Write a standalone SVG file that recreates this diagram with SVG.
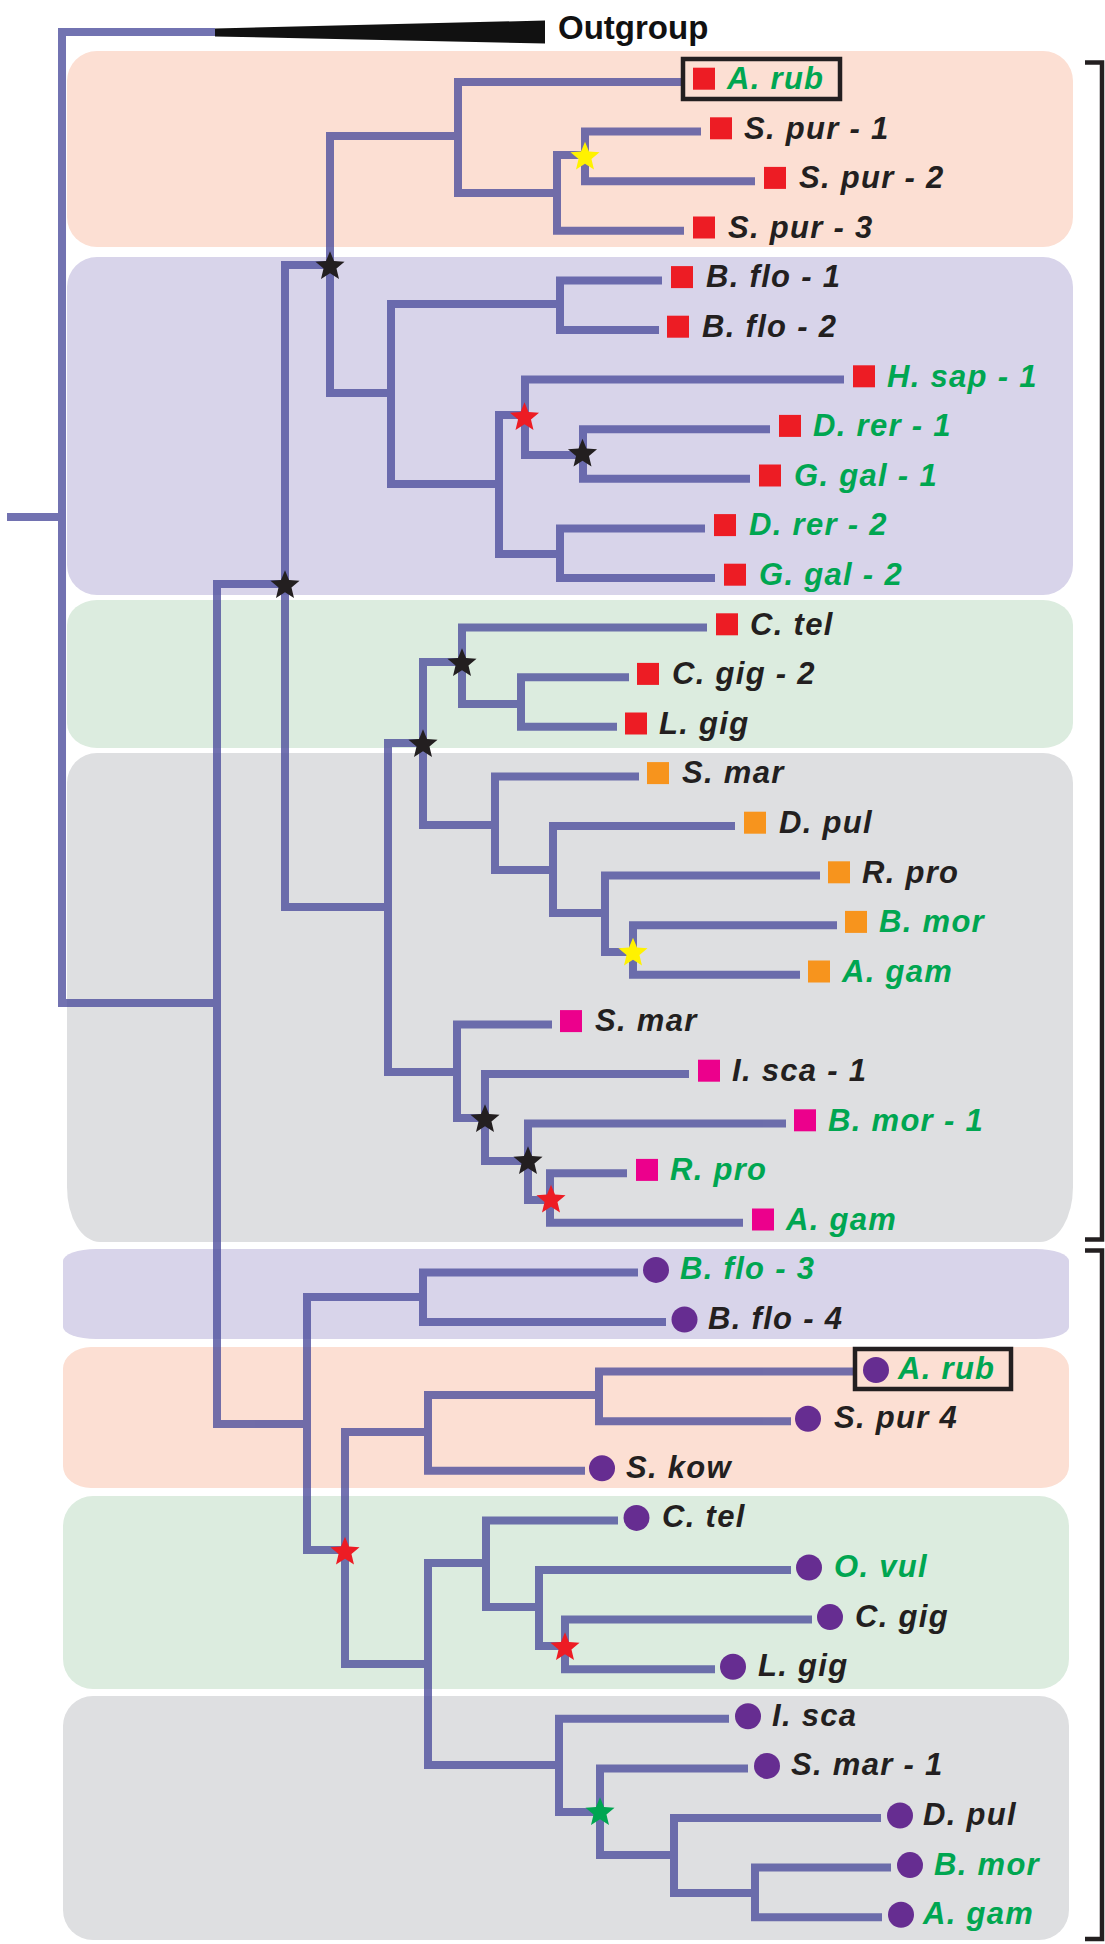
<svg xmlns="http://www.w3.org/2000/svg" xmlns:xlink="http://www.w3.org/1999/xlink" width="1105" height="1944" viewBox="0 0 1105 1944">
<style>
.lbl{font-family:"Liberation Sans",Arial,Helvetica,sans-serif;font-weight:bold;font-style:italic;font-size:31px;letter-spacing:1.3px}
.g{fill:#00A651}
.k{fill:#231F20}
.tree path{fill:none;stroke:#4F509E;stroke-width:8;stroke-linejoin:miter;stroke-linecap:butt}
.br{fill:none;stroke:#231F20;stroke-width:4.5;stroke-linejoin:miter}
.hl{fill:none;stroke:#231F20;stroke-width:4.5}
.sr{fill:#ED1C24}.so{fill:#F7941D}.sp{fill:#EC008C}.cp{fill:#662D91}
.stk{fill:#231F20}.str{fill:#ED1C24}.sty{fill:#FFF200}.stg{fill:#00A651}
.peach{fill:#FCDFD3}.lav{fill:#D8D4EA}.grn{fill:#DCECDF}.gry{fill:#DEDFE1}
</style>
<defs>
<path id="star" d="M0,-15.3 L4,-5.5 L14.55,-4.73 L6.47,2.1 L8.99,12.38 L0,6.8 L-8.99,12.38 L-6.47,2.1 L-14.55,-4.73 L-4,-5.5 Z"/>
</defs>

<g id="backgrounds">
<rect class="peach" x="67" y="51" width="1006" height="196" rx="30" ry="30"/>
<rect class="lav" x="67" y="257" width="1006" height="338" rx="30" ry="30"/>
<rect class="grn" x="67" y="600" width="1006" height="148" rx="30" ry="25"/>
<path class="gry" d="M97,753 H1043 A30,30 0 0 1 1073,783 V1187 A33,55 0 0 1 1040,1242 H100 A33,55 0 0 1 67,1187 V783 A30,30 0 0 1 97,753 Z"/>
<rect class="lav" x="63" y="1249" width="1006" height="90" rx="33" ry="12"/>
<rect class="peach" x="63" y="1347" width="1006" height="141" rx="28" ry="22"/>
<rect class="grn" x="63" y="1496" width="1006" height="193" rx="30" ry="30"/>
<rect class="gry" x="63" y="1696" width="1006" height="244" rx="30" ry="30"/>
</g>

<g id="connectors" class="tree" opacity="0.8">
<path d="M7,517 H62"/>
<path d="M215,32 H62 V1003 H217"/>
<path d="M285,584 H217 V1424 H307"/>
<path d="M330,265 H285 V907 H388"/>
<path d="M458,136 H330 V393 H391"/>
<path d="M682,82 H458 V193 H557"/>
<path d="M585,155 H557 V230.8 H684"/>
<path d="M701,131.6 H585 V181.2 H755"/>
<path d="M560,304 H391 V484 H499"/>
<path d="M662,280.4 H560 V330 H659"/>
<path d="M525,415 H499 V554 H560"/>
<path d="M844,379.6 H525 V455 H583"/>
<path d="M770,429.2 H583 V478.8 H750"/>
<path d="M705,528.4 H560 V578 H715"/>
<path d="M423,743 H388 V1072 H457"/>
<path d="M462,662 H423 V825 H495"/>
<path d="M707,627.6 H462 V704 H521"/>
<path d="M629,677.2 H521 V726.8 H617"/>
<path d="M639,776.4 H495 V870 H553"/>
<path d="M735,826 H553 V913 H605"/>
<path d="M820,875.6 H605 V952 H633"/>
<path d="M837,925.2 H633 V974.8 H800"/>
<path d="M552,1024.4 H457 V1118 H485"/>
<path d="M689,1074 H485 V1161 H528"/>
<path d="M786,1123.6 H528 V1200 H550"/>
<path d="M627,1173.2 H550 V1222.8 H743"/>
<path d="M423,1297 H307 V1550 H345"/>
<path d="M638,1272.4 H423 V1322 H666"/>
<path d="M428,1432 H345 V1664 H428"/>
<path d="M599,1395 H428 V1470.8 H585"/>
<path d="M853,1371.6 H599 V1421.2 H791"/>
<path d="M486,1563 H428 V1765 H559"/>
<path d="M618,1520.4 H486 V1607 H539"/>
<path d="M791,1570 H539 V1646 H565"/>
<path d="M812,1619.6 H565 V1669.2 H715"/>
<path d="M729,1718.8 H559 V1812 H600"/>
<path d="M748,1768.4 H600 V1855 H674"/>
<path d="M881,1818 H674 V1893 H755"/>
<path d="M891,1867.6 H755 V1917.2 H882"/>
</g>

<g id="outgroup">
<polygon points="215,28.5 545,20.5 545,43.5 215,36.5" fill="#111111"/>
<text x="558" y="39" font-family="Liberation Sans, Arial, sans-serif" font-weight="bold" font-size="33" fill="#111111">Outgroup</text>
</g>

<g id="stars">
<use xlink:href="#star" href="#star" class="sty" x="585" y="157"/>
<use xlink:href="#star" href="#star" class="stk" x="330" y="266.5"/>
<use xlink:href="#star" href="#star" class="str" x="524.5" y="417.5"/>
<use xlink:href="#star" href="#star" class="stk" x="582.5" y="454"/>
<use xlink:href="#star" href="#star" class="stk" x="285" y="585.5"/>
<use xlink:href="#star" href="#star" class="stk" x="462" y="663.5"/>
<use xlink:href="#star" href="#star" class="stk" x="423" y="744.5"/>
<use xlink:href="#star" href="#star" class="sty" x="633" y="953"/>
<use xlink:href="#star" href="#star" class="stk" x="485" y="1119.5"/>
<use xlink:href="#star" href="#star" class="stk" x="528" y="1161.5"/>
<use xlink:href="#star" href="#star" class="str" x="551" y="1200"/>
<use xlink:href="#star" href="#star" class="str" x="345" y="1552"/>
<use xlink:href="#star" href="#star" class="str" x="565" y="1647.5"/>
<use xlink:href="#star" href="#star" class="stg" x="600" y="1812.5"/>
</g>

<g id="leaf-0"><rect class="hl" x="683" y="59" width="157" height="40"/><rect class="sr" x="693" y="67.7" width="22" height="22"/><text class="lbl g" x="727" y="89">A. rub</text></g>
<g id="leaf-1"><rect class="sr" x="710" y="117.3" width="22" height="22"/><text class="lbl k" x="744" y="138.6">S. pur - 1</text></g>
<g id="leaf-2"><rect class="sr" x="764" y="166.9" width="22" height="22"/><text class="lbl k" x="799" y="188.2">S. pur - 2</text></g>
<g id="leaf-3"><rect class="sr" x="693" y="216.5" width="22" height="22"/><text class="lbl k" x="728" y="237.8">S. pur - 3</text></g>
<g id="leaf-4"><rect class="sr" x="671" y="266.1" width="22" height="22"/><text class="lbl k" x="706" y="287.4">B. flo - 1</text></g>
<g id="leaf-5"><rect class="sr" x="667" y="315.7" width="22" height="22"/><text class="lbl k" x="702" y="337">B. flo - 2</text></g>
<g id="leaf-6"><rect class="sr" x="853" y="365.3" width="22" height="22"/><text class="lbl g" x="887" y="386.6">H. sap - 1</text></g>
<g id="leaf-7"><rect class="sr" x="779" y="414.9" width="22" height="22"/><text class="lbl g" x="813" y="436.2">D. rer - 1</text></g>
<g id="leaf-8"><rect class="sr" x="759" y="464.5" width="22" height="22"/><text class="lbl g" x="794" y="485.8">G. gal - 1</text></g>
<g id="leaf-9"><rect class="sr" x="714" y="514.1" width="22" height="22"/><text class="lbl g" x="749" y="535.4">D. rer - 2</text></g>
<g id="leaf-10"><rect class="sr" x="724" y="563.7" width="22" height="22"/><text class="lbl g" x="759" y="585">G. gal - 2</text></g>
<g id="leaf-11"><rect class="sr" x="716" y="613.3" width="22" height="22"/><text class="lbl k" x="750" y="634.6">C. tel</text></g>
<g id="leaf-12"><rect class="sr" x="637" y="662.9" width="22" height="22"/><text class="lbl k" x="672" y="684.2">C. gig - 2</text></g>
<g id="leaf-13"><rect class="sr" x="625" y="712.5" width="22" height="22"/><text class="lbl k" x="659" y="733.8">L. gig</text></g>
<g id="leaf-14"><rect class="so" x="647" y="762.1" width="22" height="22"/><text class="lbl k" x="682" y="783.4">S. mar</text></g>
<g id="leaf-15"><rect class="so" x="744" y="811.7" width="22" height="22"/><text class="lbl k" x="779" y="833">D. pul</text></g>
<g id="leaf-16"><rect class="so" x="828" y="861.3" width="22" height="22"/><text class="lbl k" x="862" y="882.6">R. pro</text></g>
<g id="leaf-17"><rect class="so" x="845" y="910.9" width="22" height="22"/><text class="lbl g" x="879" y="932.2">B. mor</text></g>
<g id="leaf-18"><rect class="so" x="808" y="960.5" width="22" height="22"/><text class="lbl g" x="842" y="981.8">A. gam</text></g>
<g id="leaf-19"><rect class="sp" x="560" y="1010.1" width="22" height="22"/><text class="lbl k" x="595" y="1031.4">S. mar</text></g>
<g id="leaf-20"><rect class="sp" x="698" y="1059.7" width="22" height="22"/><text class="lbl k" x="732" y="1081">I. sca - 1</text></g>
<g id="leaf-21"><rect class="sp" x="794" y="1109.3" width="22" height="22"/><text class="lbl g" x="828" y="1130.6">B. mor - 1</text></g>
<g id="leaf-22"><rect class="sp" x="636" y="1158.9" width="22" height="22"/><text class="lbl g" x="670" y="1180.2">R. pro</text></g>
<g id="leaf-23"><rect class="sp" x="752" y="1208.5" width="22" height="22"/><text class="lbl g" x="786" y="1229.8">A. gam</text></g>
<g id="leaf-24"><circle class="cp" cx="656" cy="1269.9" r="13"/><text class="lbl g" x="680" y="1279.4">B. flo - 3</text></g>
<g id="leaf-25"><circle class="cp" cx="684.5" cy="1319.5" r="13"/><text class="lbl k" x="708" y="1329">B. flo - 4</text></g>
<g id="leaf-26"><rect class="hl" x="855" y="1349" width="156" height="40"/><circle class="cp" cx="876" cy="1370" r="13"/><text class="lbl g" x="898" y="1379">A. rub</text></g>
<g id="leaf-27"><circle class="cp" cx="808" cy="1418.7" r="13"/><text class="lbl k" x="834" y="1428.2">S. pur 4</text></g>
<g id="leaf-28"><circle class="cp" cx="602" cy="1468.3" r="13"/><text class="lbl k" x="626" y="1477.8">S. kow</text></g>
<g id="leaf-29"><circle class="cp" cx="636.5" cy="1517.9" r="13"/><text class="lbl k" x="662" y="1527.4">C. tel</text></g>
<g id="leaf-30"><circle class="cp" cx="809" cy="1567.5" r="13"/><text class="lbl g" x="834" y="1577">O. vul</text></g>
<g id="leaf-31"><circle class="cp" cx="830" cy="1617.1" r="13"/><text class="lbl k" x="855" y="1626.6">C. gig</text></g>
<g id="leaf-32"><circle class="cp" cx="733" cy="1666.7" r="13"/><text class="lbl k" x="758" y="1676.2">L. gig</text></g>
<g id="leaf-33"><circle class="cp" cx="748" cy="1716.3" r="13"/><text class="lbl k" x="772" y="1725.8">I. sca</text></g>
<g id="leaf-34"><circle class="cp" cx="767" cy="1765.9" r="13"/><text class="lbl k" x="791" y="1775.4">S. mar - 1</text></g>
<g id="leaf-35"><circle class="cp" cx="900" cy="1815.5" r="13"/><text class="lbl k" x="923" y="1825">D. pul</text></g>
<g id="leaf-36"><circle class="cp" cx="910" cy="1865.1" r="13"/><text class="lbl g" x="934" y="1874.6">B. mor</text></g>
<g id="leaf-37"><circle class="cp" cx="901" cy="1914.7" r="13"/><text class="lbl g" x="923" y="1924.2">A. gam</text></g>

<g id="brackets">
<path class="br" d="M1085,62.5 H1102 V1239.5 H1085"/>
<path class="br" d="M1085,1250.5 H1102 V1939 H1085"/>
</g>
</svg>
